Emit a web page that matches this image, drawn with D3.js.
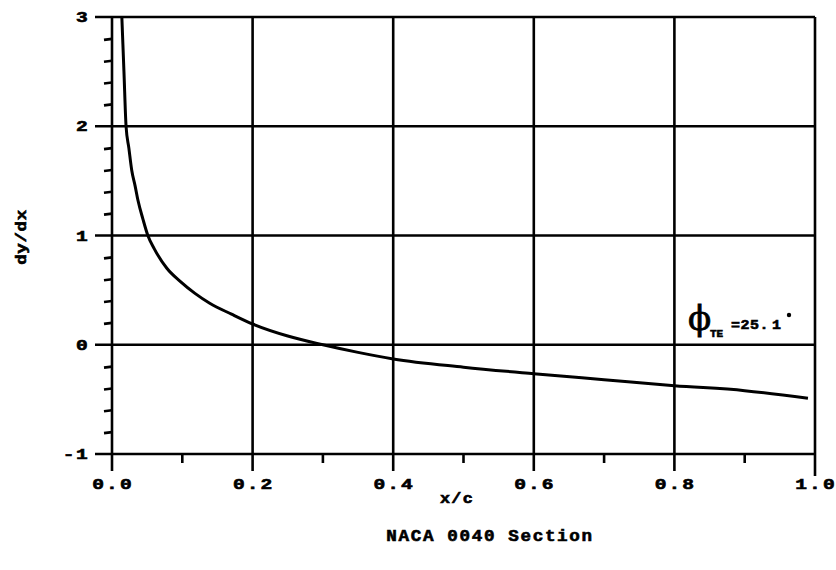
<!DOCTYPE html>
<html><head><meta charset="utf-8">
<script src="https://cdn.jsdelivr.net/npm/d3@7"></script>
<style>body{margin:0;background:#fff}svg{display:block}</style>
</head><body><div id="chart"></div>
<script>
// Data
const xValues = [0.014, 0.017, 0.020, 0.024, 0.028, 0.033, 0.037, 0.044, 0.051, 0.060, 0.078, 0.097, 0.118, 0.139, 0.17, 0.20, 0.25, 0.30, 0.35, 0.40, 0.50, 0.60, 0.70, 0.80, 0.90, 0.99];
const slopeValues = [3.0, 2.5, 2.0, 1.8, 1.6, 1.45, 1.32, 1.15, 1.0, 0.88, 0.70, 0.58, 0.47, 0.38, 0.28, 0.19, 0.08, 0.0, -0.07, -0.13, -0.205, -0.265, -0.32, -0.375, -0.42, -0.49];
const xTicks = [0, 0.2, 0.4, 0.6, 0.8, 1.0];
const xTickLabels = ["0.0", "0.2", "0.4", "0.6", "0.8", "1.0"];
const xMinorTicks = [0.1, 0.3, 0.5, 0.7, 0.9];
const yTicks = [-1, 0, 1, 2, 3];
const yTickLabels = ["-1", "0", "1", "2", "3"];
const yMinorTicks = [-0.8, -0.6, -0.4, -0.2, 0.2, 0.4, 0.6, 0.8, 1.2, 1.4, 1.6, 1.8, 2.2, 2.4, 2.6, 2.8];

const W = 836, H = 570;
const svg = d3.select("#chart").append("svg").attr("width", W).attr("height", H);
const x = d3.scaleLinear().domain([0, 1]).range([112, 815]);
const y = d3.scaleLinear().domain([-1, 3]).range([454, 17]);
const font = "'Liberation Mono', 'DejaVu Sans Mono', monospace";
const sw = 2.6;

const g = svg.append("g").attr("stroke", "#000").attr("stroke-width", sw).attr("fill", "none");

// vertical grid + ticks below
xTicks.forEach(v => {
  g.append("line").attr("x1", x(v)).attr("x2", x(v)).attr("y1", y(3)).attr("y2", v === 1 ? 476 : 471);
});
xMinorTicks.forEach(v => {
  g.append("line").attr("x1", x(v)).attr("x2", x(v)).attr("y1", y(-1)).attr("y2", 463);
});
// horizontal grid + major ticks left
yTicks.forEach(v => {
  g.append("line").attr("x1", 95).attr("x2", x(1)).attr("y1", y(v)).attr("y2", y(v));
});
yMinorTicks.forEach(v => {
  g.append("line").attr("x1", 104).attr("x2", x(0)).attr("y1", y(v) + 1).attr("y2", y(v));
});

// curve
const line = d3.line().x((d, i) => x(xValues[i])).y(d => y(d)).curve(d3.curveMonotoneX);
svg.append("path").datum(slopeValues).attr("d", line)
  .attr("fill", "none").attr("stroke", "#000").attr("stroke-width", 3).attr("stroke-linejoin", "round");

// wide, squat bold text helper
function wideText(px, py, txt, size, sx, anchor, ls, rot) {
  const t = svg.append("text")
    .attr("transform", `translate(${px},${py})` + (rot ? ` rotate(${rot})` : "") + ` scale(${sx},1)`)
    .attr("font-family", font).attr("font-weight", "bold").attr("font-size", size)
    .attr("text-anchor", anchor).attr("fill", "#000").attr("stroke", "#000").attr("stroke-width", 0.6)
    .attr("letter-spacing", ls).text(txt);
  return t;
}

xTicks.forEach((v, i) => wideText(x(v) + 1, 489, xTickLabels[i], 14.5, 1.35, "middle", 1.5));
yTicks.forEach((v, i) => wideText(89, y(v) + 5, yTickLabels[i], 14.5, 1.35, "end", 1));

// axis titles
wideText(457, 503, "x/c", 14, 1.2, "middle", 1);
wideText(26, 237, "dy/dx", 14, 1.25, "middle", 0.5, -90);
wideText(490, 541, "NACA 0040 Section", 16, 1.1, "middle", 1.5);

// annotation
svg.append("text").attr("x", 688).attr("y", 330).attr("font-size", 34)
  .attr("font-family", "'DejaVu Serif', serif").attr("fill", "#000").attr("stroke", "#000").attr("stroke-width", 0.8).text("\u03D5");
wideText(710, 337, "TE", 10, 1.1, "start", 0);
wideText(731, 329, "=25.", 13, 1.15, "start", 0.5);
wideText(772, 329, "1", 13, 1.15, "start", 0);
svg.append("circle").attr("cx", 789).attr("cy", 315).attr("r", 2.2).attr("fill", "#000");
</script></body></html>
